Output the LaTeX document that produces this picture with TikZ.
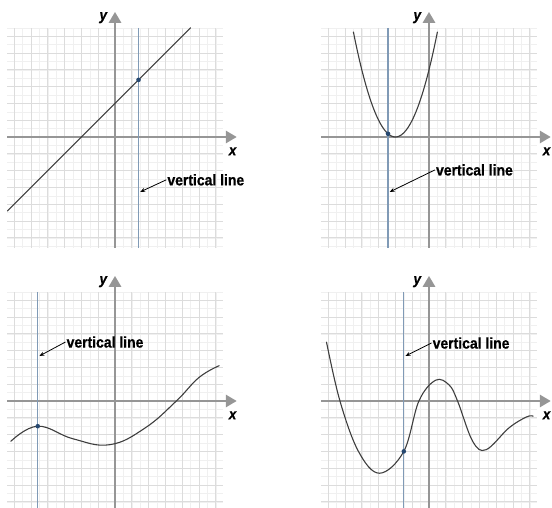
\documentclass[tikz,border=0pt]{standalone}
\usepackage{fontspec}
\setmainfont{Liberation Sans}
\newfontfamily\lblfont[FakeStretch=0.9, FakeBold=0.6]{Liberation Sans}
\usepackage{tikz}
\usetikzlibrary{arrows.meta,positioning,calc}
\definecolor{gpgrid}{RGB}{220,220,220}
\definecolor{gpfine}{RGB}{240,240,240}
\definecolor{gpaxis}{RGB}{150,150,150}
\definecolor{gpcurve}{RGB}{62,62,62}
\definecolor{gpvert}{RGB}{128,154,182}
\definecolor{gpdot}{RGB}{38,72,112}
\tikzset{
  panel/.style={x=16.8pt, y=16.8pt},
  gridfine/.style={draw=gpfine, line width=0.5pt},
  gridmain/.style={draw=gpgrid, line width=0.8pt},
  axis/.style={
    draw=gpaxis, line width=2.8pt,
    -{Triangle[length=11pt,width=12pt]}
  },
  curve/.style={draw=gpcurve, line width=1.1pt, line cap=round},
  vert/.style={draw=gpvert, line width=1.1pt},
  dot/.style={circle, fill=gpdot, inner sep=0pt, minimum size=4.6pt},
  axlbl/.style={font=\lblfont\bfseries\itshape\fontsize{15}{17}\selectfont, inner sep=0pt},
  lbl/.style={font=\lblfont\bfseries\fontsize{15.5}{17}\selectfont, inner sep=1pt},
  lblarr/.style={-{Stealth[length=5pt,width=4pt]}, draw=black, line width=0.8pt}
}
\begin{document}
\begin{tikzpicture}[x=1pt, y=1pt]
  \useasboundingbox (0,0) rectangle (552,508);
  % grid and axes of the four panels
  \foreach \ox/\oy/\k in {115/371/a, 429/371/b, 115/107/c, 429/107/d} {
    \begin{scope}[shift={(\ox pt,\oy pt)}, panel]
      \draw[gridfine] (-6.4,-6.6) grid[step=0.5] (6.4,6.5);
      \draw[gridmain] (-6.4,-6.6) grid[step=1] (6.4,6.5);
      \draw[axis] (-6.4,0) -- (7.25,0);
      \draw[axis] (0,-6.6) -- (0,7.45);
      \node[axlbl] (x\k) at (7.0,-0.85) {x};
      \node[axlbl] (y\k) at (-0.7,7.1) {y};
    \end{scope}
  }
  % straight line
  \begin{scope}[shift={(115pt,371pt)}, panel]
    \draw[vert] (1.4,6.5) -- (1.4,-6.6);
    \draw[curve] (-6.4,-4.4) -- (4.5,6.5);
    \node[dot] (pa) at (1.4,3.4) {};
    \node[lbl, anchor=west] (ta) at (3.05,-2.55) {vertical line};
    \coordinate (ea) at (1.5,-3.27);
    \draw[lblarr] (ta.west) -- (ea);
  \end{scope}
  % parabola
  \begin{scope}[shift={(429pt,371pt)}, panel]
    \draw[vert] (-2.44,6.5) -- (-2.44,-6.6);
    \draw[curve] plot[domain=-4.5:0.5, samples=60] (\x,{(\x+2)^2});
    \node[dot] (pb) at (-2.44,0.19) {};
    \node[lbl, anchor=west] (tb) at (0.35,-1.96) {vertical line};
    \coordinate (eb) at (-2.34,-3.27);
    \draw[lblarr] (tb.west) -- (eb);
  \end{scope}
  % slow wave
  \begin{scope}[shift={(115pt,107pt)}, panel]
    \draw[vert] (-4.6,6.5) -- (-4.6,-6.6);
    \draw[curve] plot[smooth, tension=0.7] coordinates {
      (-6.2,-2.4) (-4.6,-1.5) (-2.5,-2.25) (-0.3,-2.6)
      (1.8,-1.6) (3.65,0) (5,1.4) (6.2,2.1)};
    \node[dot] (pc) at (-4.6,-1.5) {};
    \node[lbl, anchor=west] (tc) at (-2.95,3.51) {vertical line};
    \coordinate (ec) at (-4.5,2.68);
    \draw[lblarr] (tc.west) -- (ec);
  \end{scope}
  % wiggly curve
  \begin{scope}[shift={(429pt,107pt)}, panel]
    \draw[vert] (-1.5,6.5) -- (-1.5,-6.6);
    \draw[curve] plot[smooth, tension=0.6] coordinates {
      (-6.1,3.5) (-5.3,0) (-4.2,-3) (-2.95,-4.3) (-1.5,-3.0)
      (-0.6,0) (0.4,1.24) (1.2,0.95) (1.7,0) (2.6,-2.4)
      (3.4,-2.9) (4.76,-1.6) (5.8,-0.95) (6.2,-0.9)};
    \node[dot] (pd) at (-1.5,-3.0) {};
    \node[lbl, anchor=west] (td) at (0.15,3.45) {vertical line};
    \coordinate (ed) at (-1.4,2.68);
    \draw[lblarr] (td.west) -- (ed);
  \end{scope}
\end{tikzpicture}
\end{document}
